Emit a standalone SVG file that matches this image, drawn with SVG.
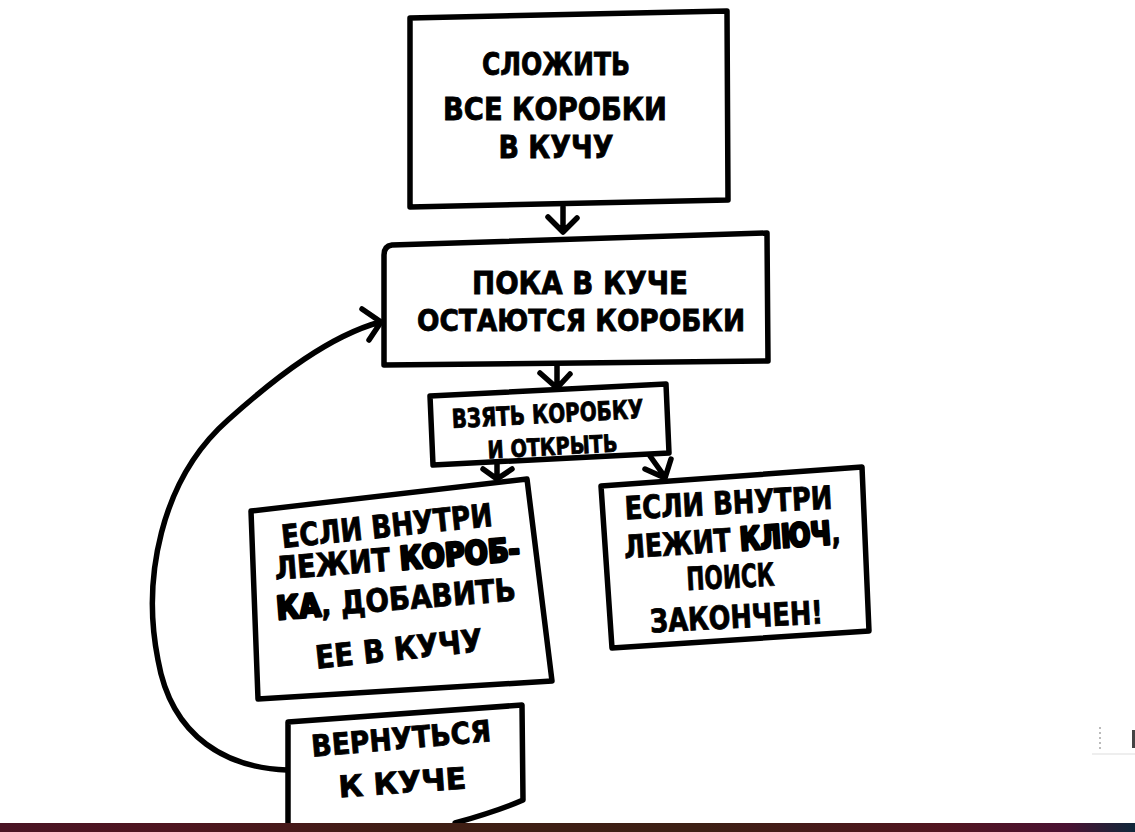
<svg xmlns="http://www.w3.org/2000/svg" width="1135" height="832" viewBox="0 0 1135 832">
<style>
.box{fill:#fff;stroke:#000;stroke-width:5.5;stroke-linejoin:round;stroke-linecap:round}
.con{fill:none;stroke:#000;stroke-width:5.5;stroke-linejoin:round;stroke-linecap:round}
.t{font-family:"DejaVu Sans Condensed","DejaVu Sans",sans-serif;font-weight:bold;fill:#000;text-anchor:middle;stroke:#000;stroke-width:0.8}
.b{stroke:#000;stroke-width:2.8;stroke-linejoin:round}
</style>
<defs>
<linearGradient id="bar" x1="0" y1="0" x2="1" y2="0">
<stop offset="0" stop-color="#4a1424"/>
<stop offset="0.15" stop-color="#4f1520"/>
<stop offset="0.36" stop-color="#3f1e14"/>
<stop offset="0.62" stop-color="#3d1f14"/>
<stop offset="0.83" stop-color="#521520"/>
<stop offset="0.94" stop-color="#4a1232"/>
<stop offset="1" stop-color="#10283a"/>
</linearGradient>
</defs>
<rect width="1135" height="832" fill="#fff"/>

<g id="connectors">
<path class="con" d="M563 207 L563 231 M548 217 L563 232 L577 218"/>
<path class="con" d="M557 364 L557 389 M540 373 L557 388 L570 374"/>
<path class="con" d="M497 463 L497 479 M483 469 L497 479 L512 469"/>
<path class="con" d="M650 456 L665 477 M645 469 L665 478 L671 459"/>
<path class="con" d="M287 770 C230 768 172 740 158 660 C142 580 160 480 228 420 C278 375 330 336 380 322 M362 309 L381 322 L369 340"/>
</g>

<g id="n1">
<path class="box" d="M410 18 L727 11 L728 200 L410 207 Z"/>
<text class="t" font-size="32" x="556" y="75" textLength="148" lengthAdjust="spacingAndGlyphs">СЛОЖИТЬ</text>
<text class="t" font-size="32" x="555" y="120" textLength="224" lengthAdjust="spacingAndGlyphs">ВСЕ КОРОБКИ</text>
<text class="t" font-size="32" x="556" y="158" textLength="115" lengthAdjust="spacingAndGlyphs">В КУЧУ</text>
</g>

<g id="n2">
<path class="box" d="M392 245 L767 233 L768 361 L384 365 L384 255 Q384 246 392 245 Z"/>
<text class="t" font-size="32" x="580" y="294" textLength="216" lengthAdjust="spacingAndGlyphs">ПОКА В КУЧЕ</text>
<text class="t" font-size="31" x="581" y="331" textLength="328" lengthAdjust="spacingAndGlyphs">ОСТАЮТСЯ КОРОБКИ</text>
</g>

<g id="n3">
<path class="box" d="M430 396 L666 384 L669 453 L433 465 Z"/>
<text class="t" font-size="26" x="548" y="423" textLength="192" lengthAdjust="spacingAndGlyphs" transform="rotate(-3 548 423)">ВЗЯТЬ КОРОБКУ</text>
<text class="t" font-size="24" x="553" y="455" textLength="130" lengthAdjust="spacingAndGlyphs" transform="rotate(-3 553 455)">И ОТКРЫТЬ</text>
</g>

<g id="n4">
<path class="box" d="M251 511 L527 479 L552 681 L258 699 Z"/>
<text class="t" font-size="32" x="388" y="537" textLength="212" lengthAdjust="spacingAndGlyphs" transform="rotate(-6 388 537)">ЕСЛИ ВНУТРИ</text>
<text class="t" font-size="32" x="398" y="570" textLength="246" lengthAdjust="spacingAndGlyphs" transform="rotate(-4.5 398 570)">ЛЕЖИТ <tspan class="b">КОРОБ-</tspan></text>
<text class="t" font-size="32" x="397" y="610" textLength="240" lengthAdjust="spacingAndGlyphs" transform="rotate(-4.5 397 610)"><tspan class="b">КА</tspan>, ДОБАВИТЬ</text>
<text class="t" font-size="32" x="400" y="660" textLength="168" lengthAdjust="spacingAndGlyphs" transform="rotate(-6 400 660)">ЕЕ В КУЧУ</text>
</g>

<g id="n5">
<path class="box" d="M601 486 L862 467 L869 631 L612 648 Z"/>
<text class="t" font-size="32" x="729" y="514" textLength="208" lengthAdjust="spacingAndGlyphs" transform="rotate(-3 729 514)">ЕСЛИ ВНУТРИ</text>
<text class="t" font-size="32" x="733" y="551" textLength="217" lengthAdjust="spacingAndGlyphs" transform="rotate(-4 733 551)">ЛЕЖИТ <tspan class="b">КЛЮЧ</tspan>,</text>
<text class="t" font-size="32" x="731" y="588" textLength="88" lengthAdjust="spacingAndGlyphs" transform="rotate(-3 731 588)">ПОИСК</text>
<text class="t" font-size="32" x="737" y="628" textLength="173" lengthAdjust="spacingAndGlyphs" transform="rotate(-3 737 628)">ЗАКОНЧЕН!</text>
</g>

<g id="n6">
<path class="box" d="M288 832 L288 722 L522 705 L523 800 C505 808 480 816 455 823 L455 832"/>
<text class="t" font-size="30" x="402" y="749" textLength="180" lengthAdjust="spacingAndGlyphs" transform="rotate(-5 402 749)">ВЕРНУТЬСЯ</text>
<text class="t" font-size="30" x="403" y="793" textLength="128" lengthAdjust="spacingAndGlyphs" transform="rotate(-4 403 793)">К КУЧЕ</text>
</g>

<g id="artifact">
<line x1="1100" y1="727" x2="1100" y2="752" stroke="#bbb" stroke-width="2" stroke-dasharray="2 3"/>
<line x1="1092" y1="754" x2="1135" y2="754" stroke="#ddd" stroke-width="1"/>
<rect x="1132" y="730" width="3" height="18" fill="#444"/>
</g>

<rect x="0" y="823" width="1135" height="9" fill="url(#bar)"/>
</svg>
